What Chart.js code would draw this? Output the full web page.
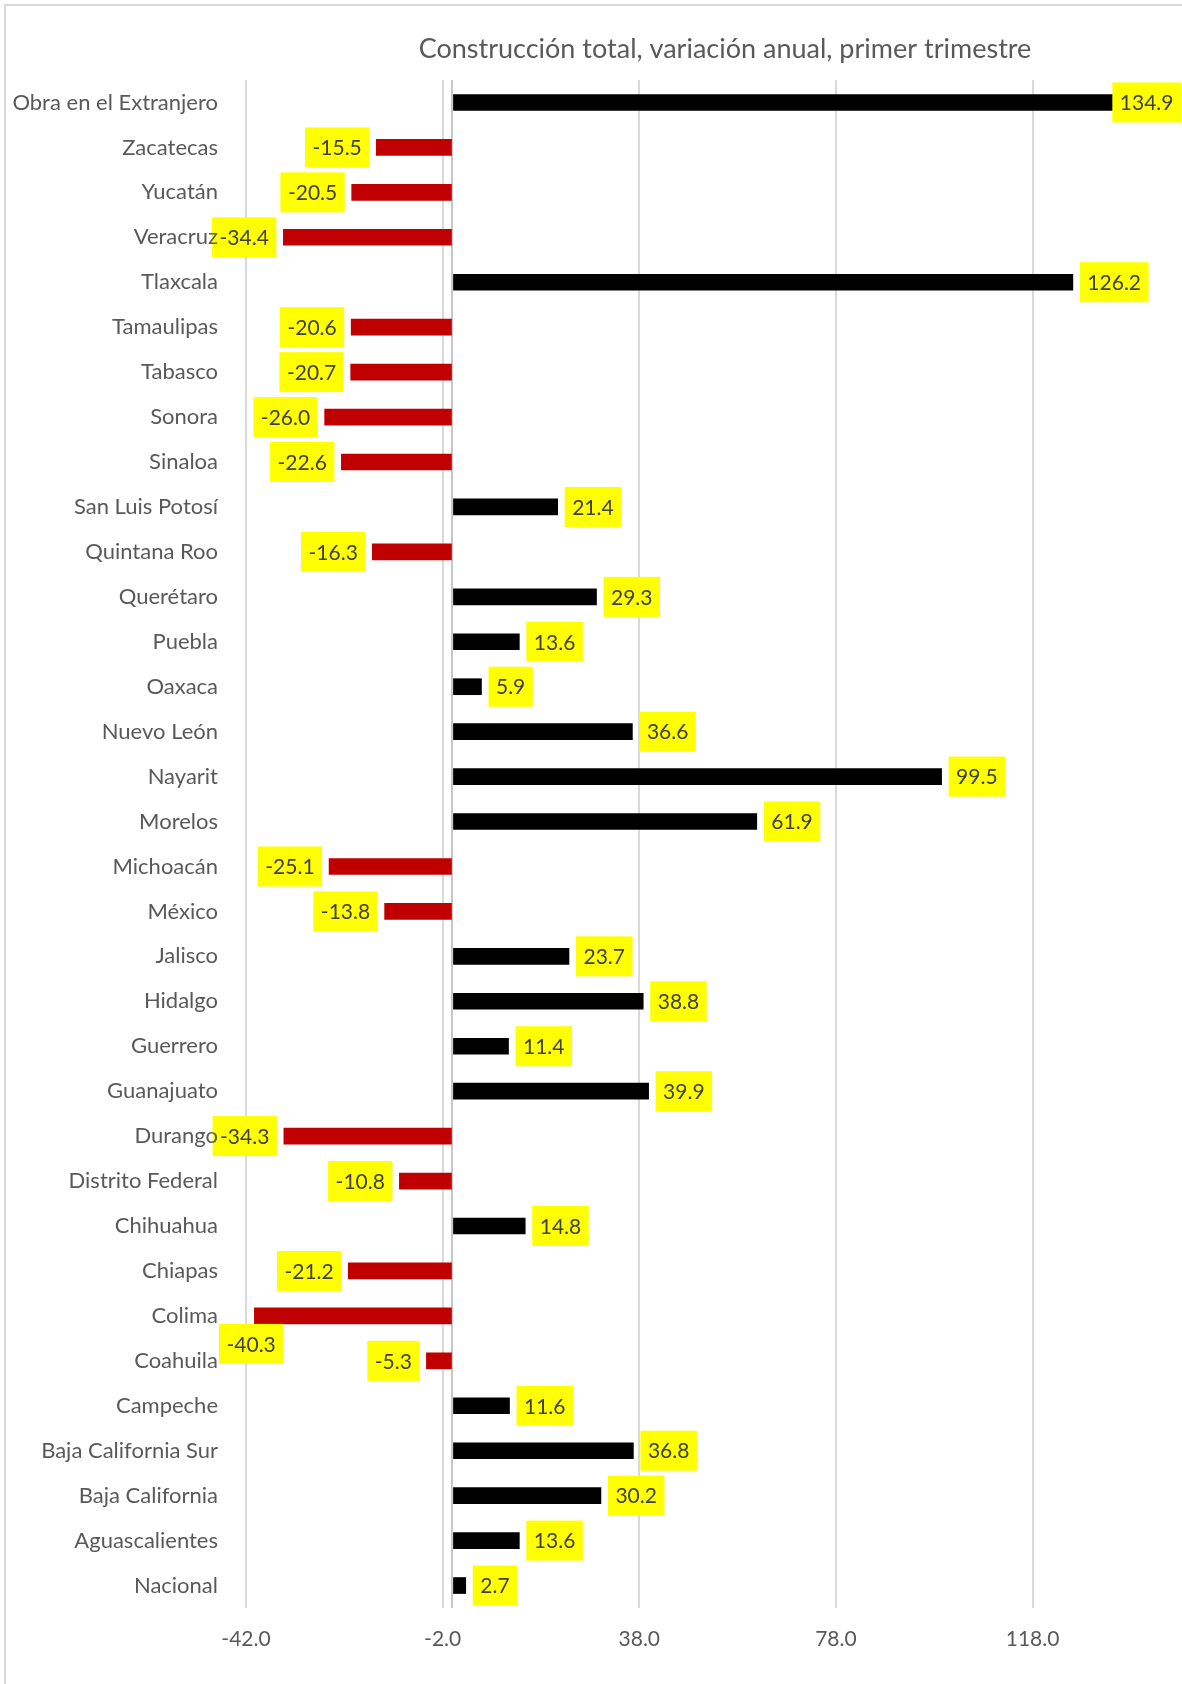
<!DOCTYPE html>
<html>
<head>
<meta charset="utf-8">
<script src="https://cdn.jsdelivr.net/npm/chart.js@4.4.1/dist/chart.umd.min.js"></script>
<style>
  html, body { margin: 0; padding: 0; background: #ffffff; }
  #wrap { position: relative; width: 1182px; height: 1684px; }
</style>
</head>
<body>
<div id="wrap"><canvas id="chart" width="1182" height="1684"></canvas></div>
<script>
// States, top to bottom as shown
const states = [
  "Obra en el Extranjero", "Zacatecas", "Yucatán", "Veracruz", "Tlaxcala",
  "Tamaulipas", "Tabasco", "Sonora", "Sinaloa", "San Luis Potosí",
  "Quintana Roo", "Querétaro", "Puebla", "Oaxaca", "Nuevo León",
  "Nayarit", "Morelos", "Michoacán", "México", "Jalisco",
  "Hidalgo", "Guerrero", "Guanajuato", "Durango", "Distrito Federal",
  "Chihuahua", "Chiapas", "Colima", "Coahuila", "Campeche",
  "Baja California Sur", "Baja California", "Aguascalientes", "Nacional"
];
const annualChange = [
  134.9, -15.5, -20.5, -34.4, 126.2,
  -20.6, -20.7, -26.0, -22.6, 21.4,
  -16.3, 29.3, 13.6, 5.9, 36.6,
  99.5, 61.9, -25.1, -13.8, 23.7,
  38.8, 11.4, 39.9, -34.3, -10.8,
  14.8, -21.2, -40.3, -5.3, 11.6,
  36.8, 30.2, 13.6, 2.7
];
const xTicks = [-42, -2, 38, 78, 118];
const chartTitle = "Construcción total, variación anual, primer trimestre";

const FONT = "Lato, 'Open Sans', sans-serif";

// frame + title (title sits off-centre, like the original)
const framePlugin = {
  id: "frame",
  beforeDraw(chart) {
    const ctx = chart.ctx;
    ctx.save();
    ctx.fillStyle = "#d9d9d9";
    ctx.fillRect(4, 4, 2, chart.height - 4);
    ctx.fillRect(4, 4, chart.width - 4, 2);
    ctx.fillStyle = "#595959";
    ctx.font = "27px " + FONT;
    ctx.textAlign = "center";
    ctx.textBaseline = "middle";
    ctx.fillText(chartTitle, 725, 49);
    ctx.restore();
  }
};

// yellow value labels
const valueLabels = {
  id: "valueLabels",
  afterDatasetsDraw(chart) {
    const ctx = chart.ctx;
    const meta = chart.getDatasetMeta(0);
    const boxes = [];
    ctx.save();
    ctx.font = "21px " + FONT;
    ctx.textBaseline = "middle";
    ctx.textAlign = "center";
    meta.data.forEach((bar, i) => {
      const v = annualChange[i];
      const txt = v.toFixed(1);
      const w = ctx.measureText(txt).width + 15;
      const h = 40;
      let left, top = bar.y - h / 2;
      if (v >= 0) {
        left = bar.x + 7;
        if (left + w > chart.width - 1) left = chart.width - 1 - w;
      } else {
        left = bar.x - 7 - w;
        if (left < 200) {
          left = 219;
          top = bar.y + bar.height / 2;
        }
      }
      ctx.fillStyle = "#ffff00";
      ctx.fillRect(left, top, w, h);
      ctx.fillStyle = "#404040";
      ctx.fillText(txt, left + w / 2, top + h / 2 + 1);
      if (left < chart.chartArea.left) boxes.push([left, top, w, h]);
    });
    ctx.restore();

    // state names sit on top of any box that reaches into them
    if (boxes.length) {
      ctx.save();
      ctx.beginPath();
      boxes.forEach(b => ctx.rect(b[0], b[1], b[2], b[3]));
      ctx.clip();
      chart.scales.y.drawLabels(chart.chartArea);
      ctx.restore();
    }
  }
};

new Chart(document.getElementById("chart"), {
  type: "bar",
  data: {
    labels: states,
    datasets: [{
      data: annualChange,
      backgroundColor: (c) => c.raw < 0 ? "#c00000" : "#000000",
      barThickness: 16
    }]
  },
  options: {
    indexAxis: "y",
    responsive: false,
    animation: false,
    devicePixelRatio: 1,
    layout: { padding: { top: 80, right: 0, left: 0, bottom: 0 } },
    plugins: {
      legend: { display: false },
      tooltip: { enabled: false },
      title: { display: false }
    },
    scales: {
      x: {
        type: "linear",
        min: -42,
        max: 148.4,
        afterBuildTicks: (scale) => {
          scale.ticks = xTicks.concat([0]).map(v => ({ value: v }));
        },
        afterFit: (scale) => { scale.height = 76; },
        grid: {
          drawTicks: false,
          lineWidth: 2,
          color: (c) => c.tick && c.tick.value === 0 ? "#c6c6c6" : "#d9d9d9"
        },
        border: { display: false },
        ticks: {
          padding: 19,
          color: "#595959",
          font: { family: FONT, size: 21 },
          callback: (v) => v === 0 ? "" : Number(v).toFixed(1)
        }
      },
      y: {
        type: "category",
        afterFit: (scale) => { scale.width = 246; },
        grid: { display: false, drawTicks: false },
        border: { display: false },
        ticks: {
          padding: 28,
          autoSkip: false,
          color: "#595959",
          font: { family: FONT, size: 22 }
        }
      }
    }
  },
  plugins: [framePlugin, valueLabels]
});
</script>
</body>
</html>
